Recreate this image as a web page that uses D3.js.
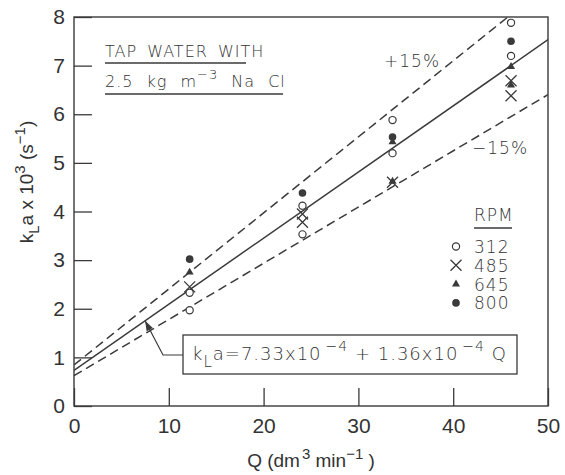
<!DOCTYPE html>
<html>
<head>
<meta charset="utf-8">
<script src="https://cdn.jsdelivr.net/npm/d3@7"></script>
<style>
  body { margin: 0; background: #fff; }
  svg { display: block; }
  .tick text { font-family: "Liberation Sans", Arial, sans-serif; font-size: 21px; fill: #333; }
  .tick line { stroke: #3a3a3a; stroke-width: 1.3; }
  .note { font-family: "DejaVu Sans", sans-serif; font-weight: 200; fill: #333; letter-spacing: 1px; }
</style>
</head>
<body>
<script>
// axis ranges / ticks
const xTicks = [0, 10, 20, 30, 40, 50];
const yTicks = [0, 1, 2, 3, 4, 5, 6, 7, 8];

// fit kLa = 7.33e-4 + 1.36e-4 Q  (shown x 10^3)
const fitA = 0.733, fitB = 0.136;
const bands = [1.15, 0.85]; // +15% / -15%

// measured points [Q, kLa x 10^3] by impeller speed
const rpm312 = [[12.2, 1.97], [12.2, 2.33], [24.1, 4.12], [24.1, 3.53], [33.6, 5.88], [33.6, 5.2], [46.1, 7.88], [46.1, 7.2]];
const rpm485 = [[12.2, 2.45], [24.1, 3.95], [24.1, 3.78], [33.6, 4.6], [46.1, 6.69], [46.1, 6.38]];
const rpm645 = [[12.2, 2.75], [33.6, 5.43], [33.6, 4.62], [46.1, 6.98], [46.1, 6.6]];
const rpm800 = [[12.2, 3.02], [24.1, 4.38], [33.6, 5.53], [46.1, 7.5]];
const legendLabels = ["312", "485", "645", "800"];

const W = 565, H = 475;
const ink = "#3a3a3a";

const svg = d3.select("body").append("svg").attr("width", W).attr("height", H);

const x = d3.scaleLinear().domain([0, 50]).range([74, 548]);
const y = d3.scaleLinear().domain([0, 8]).range([406, 17]);

svg.append("defs").append("clipPath").attr("id", "plot")
  .append("rect").attr("x", 74).attr("y", 17).attr("width", 474).attr("height", 389);

// axes, ticks pointing inward
svg.append("g").attr("transform", "translate(0,406)")
  .call(d3.axisBottom(x).tickValues(xTicks).tickSize(-18).tickSizeOuter(0).tickPadding(12).tickFormat(d3.format("d")))
  .call(g => g.select(".domain").remove());
svg.append("g").attr("transform", "translate(74,0)")
  .call(d3.axisLeft(y).tickValues(yTicks).tickSize(-18).tickSizeOuter(0).tickPadding(9).tickFormat(d3.format("d")))
  .call(g => g.select(".domain").remove());

svg.append("rect").attr("x", 74).attr("y", 17).attr("width", 474).attr("height", 389)
  .attr("fill", "none").attr("stroke", ink).attr("stroke-width", 1.4);

// axis titles
const xl = svg.append("text").attr("x", 311).attr("y", 467).attr("text-anchor", "middle")
  .attr("font-family", "Liberation Sans, Arial, sans-serif").attr("font-size", 19).attr("fill", "#333");
xl.append("tspan").text("Q (dm");
xl.append("tspan").attr("dy", -8).attr("dx", 2).attr("font-size", 15).text("3");
xl.append("tspan").attr("dy", 8).text(" min");
xl.append("tspan").attr("dy", -8).attr("font-size", 15).text("−1");
xl.append("tspan").attr("dy", 8).text(" )");

const yl = svg.append("text").attr("transform", "translate(33,182) rotate(-90)").attr("text-anchor", "middle")
  .attr("font-family", "Liberation Sans, Arial, sans-serif").attr("font-size", 19).attr("fill", "#333");
yl.append("tspan").text("k");
yl.append("tspan").attr("dy", 6).attr("font-size", 15).text("L");
yl.append("tspan").attr("dy", -6).text("a x 10");
yl.append("tspan").attr("dy", -8).attr("font-size", 15).text("3");
yl.append("tspan").attr("dy", 8).text(" (s");
yl.append("tspan").attr("dy", -8).attr("font-size", 15).text("−1");
yl.append("tspan").attr("dy", 8).text(")");

// fit line and +/-15% bands
const plot = svg.append("g").attr("clip-path", "url(#plot)");
const ends = [0, 50];
plot.append("path")
  .attr("d", d3.line().x(q => x(q)).y(q => y(fitA + fitB * q))(ends))
  .attr("fill", "none").attr("stroke", ink).attr("stroke-width", 1.5);
bands.forEach(f => {
  plot.append("path")
    .attr("d", d3.line().x(q => x(q)).y(q => y(f * (fitA + fitB * q)))(ends))
    .attr("fill", "none").attr("stroke", ink).attr("stroke-width", 1.5)
    .attr("stroke-dasharray", "9,5");
});

// markers
function drawMarker(g, kind, cx, cy) {
  if (kind === 0) {
    g.append("circle").attr("cx", cx).attr("cy", cy).attr("r", 3.6)
      .attr("fill", "#fff").attr("stroke", ink).attr("stroke-width", 1.2);
  } else if (kind === 1) {
    const s = 5.5;
    g.append("path").attr("d", `M${cx - s},${cy - s}L${cx + s},${cy + s}M${cx - s},${cy + s}L${cx + s},${cy - s}`)
      .attr("stroke", ink).attr("stroke-width", 1.3).attr("fill", "none");
  } else if (kind === 2) {
    g.append("path").attr("d", d3.symbol(d3.symbolTriangle, 28)()).attr("transform", `translate(${cx},${cy})`)
      .attr("fill", ink);
  } else {
    g.append("circle").attr("cx", cx).attr("cy", cy).attr("r", 3.8).attr("fill", ink);
  }
}
const series = [rpm312, rpm485, rpm645, rpm800];
const pts = svg.append("g");
series.forEach((s, k) => s.forEach(d => drawMarker(pts, k, x(d[0]), y(d[1]))));

// legend
const lg = svg.append("g");
lg.append("text").attr("class", "note").attr("x", 474).attr("y", 221).attr("font-size", 17).attr("letter-spacing", 0).text("RPM");
lg.append("line").attr("x1", 474).attr("x2", 512).attr("y1", 228).attr("y2", 228).attr("stroke", ink).attr("stroke-width", 1.3);
legendLabels.forEach((t, i) => {
  const cy = 246.5 + i * 18.8;
  drawMarker(lg, i, 456, cy);
  lg.append("text").attr("class", "note").attr("x", 474).attr("y", cy + 6.5).attr("font-size", 17).text(t);
});

// condition note
svg.append("text").attr("class", "note").attr("x", 105).attr("y", 57).attr("font-size", 16)
  .attr("word-spacing", 4).text("TAP WATER WITH");
svg.append("line").attr("x1", 105).attr("x2", 246).attr("y1", 63).attr("y2", 63).attr("stroke", ink).attr("stroke-width", 1.3);
const t2 = svg.append("text").attr("class", "note").attr("x", 105).attr("y", 87).attr("font-size", 16).attr("word-spacing", 7);
t2.append("tspan").text("2.5 kg m");
t2.append("tspan").attr("dy", -8).attr("font-size", 13).text("−3");
t2.append("tspan").attr("dy", 8).text(" Na Cl");
svg.append("line").attr("x1", 105).attr("x2", 283).attr("y1", 94).attr("y2", 94).attr("stroke", ink).attr("stroke-width", 1.3);

// band labels
svg.append("text").attr("class", "note").attr("x", 384).attr("y", 67).attr("font-size", 17).text("+15%");
svg.append("text").attr("class", "note").attr("x", 472).attr("y", 154).attr("font-size", 17).text("−15%");

// equation box with leader arrow
svg.append("rect").attr("x", 183).attr("y", 335).attr("width", 334).attr("height", 39)
  .attr("fill", "#fff").attr("stroke", ink).attr("stroke-width", 1.3);
const eq = svg.append("text").attr("class", "note").attr("x", 192).attr("y", 360).attr("font-size", 18)
  .attr("letter-spacing", 1.6);
eq.append("tspan").text("k");
eq.append("tspan").attr("dy", 7).attr("font-size", 15).text("L");
eq.append("tspan").attr("dy", -7).text("a=7.33x10");
eq.append("tspan").attr("dy", -9).attr("dx", 4).attr("font-size", 14).text("−4");
eq.append("tspan").attr("dy", 9).text("  +  1.36x10");
eq.append("tspan").attr("dy", -9).attr("dx", 4).attr("font-size", 14).text("−4");
eq.append("tspan").attr("dy", 9).text(" Q");

const qTip = 7.5;
const tip = [x(qTip), y(fitA + fitB * qTip)];
const elbow = [163, 355];
svg.append("path").attr("d", `M183,355L${elbow[0]},${elbow[1]}L${tip[0]},${tip[1]}`)
  .attr("fill", "none").attr("stroke", ink).attr("stroke-width", 1.2);
const ang = Math.atan2(tip[1] - elbow[1], tip[0] - elbow[0]);
const ah = 10, aw = 3.5;
const bx = tip[0] - ah * Math.cos(ang), by = tip[1] - ah * Math.sin(ang);
svg.append("path")
  .attr("d", `M${tip[0]},${tip[1]}L${bx + aw * Math.sin(ang)},${by - aw * Math.cos(ang)}L${bx - aw * Math.sin(ang)},${by + aw * Math.cos(ang)}Z`)
  .attr("fill", ink);
</script>
</body>
</html>
